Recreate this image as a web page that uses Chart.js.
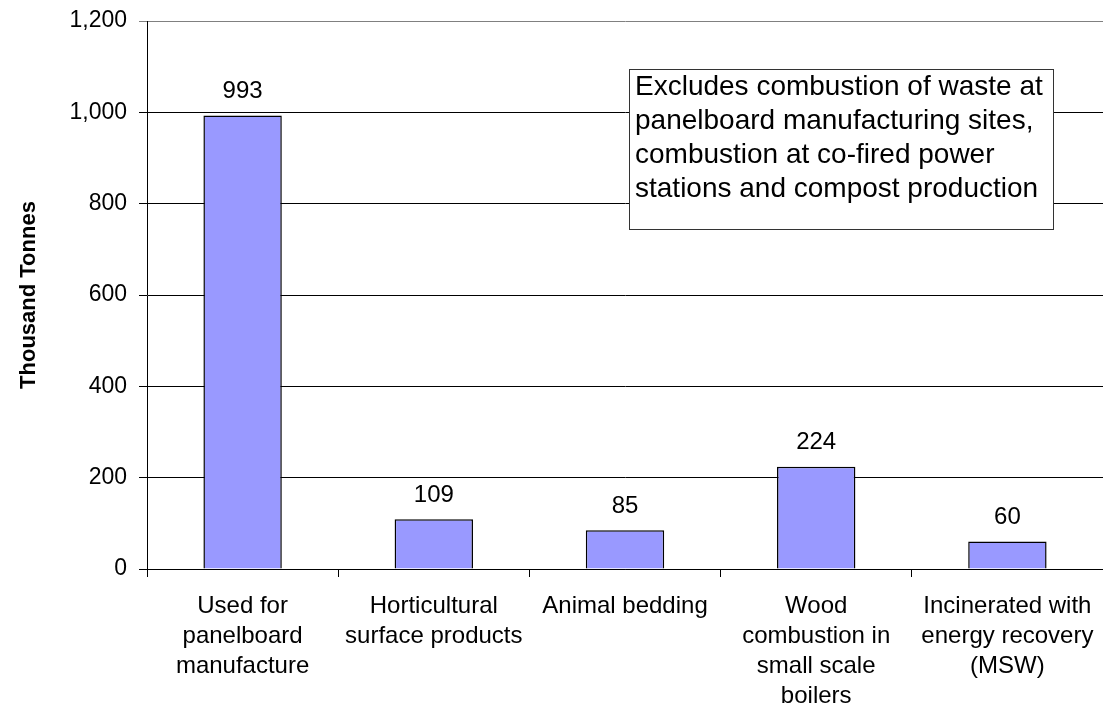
<!DOCTYPE html>
<html>
<head>
<meta charset="utf-8">
<script src="https://cdn.jsdelivr.net/npm/chart.js@4/dist/chart.umd.min.js"></script>
<style>
  html, body { margin: 0; padding: 0; background: #ffffff; }
  #wrap { width: 1103px; height: 704px; position: relative; }
</style>
</head>
<body>
<div id="wrap"><canvas id="chart"></canvas></div>
<script>
// Wood waste end uses (thousand tonnes)
const categories = [
  ["Used for", "panelboard", "manufacture"],
  ["Horticultural", "surface products"],
  ["Animal bedding"],
  ["Wood", "combustion in", "small scale", "boilers"],
  ["Incinerated with", "energy recovery", "(MSW)"]
];
const tonnes = [993, 109, 85, 224, 60];
const yTicks = [0, 200, 400, 600, 800, 1000, 1200];
const noteLines = [
  "Excludes combustion of waste at",
  "panelboard manufacturing sites,",
  "combustion at co-fired power",
  "stations and compost production"
];

const FONT = "'Liberation Sans', Arial, Helvetica, sans-serif";

// Value labels above each bar
const valueLabels = {
  id: 'valueLabels',
  afterDatasetsDraw(chart) {
    const ctx = chart.ctx;
    const meta = chart.getDatasetMeta(0);
    ctx.save();
    ctx.font = '24px ' + FONT;
    ctx.fillStyle = '#000000';
    ctx.textAlign = 'center';
    ctx.textBaseline = 'middle';
    meta.data.forEach((bar, i) => {
      ctx.fillText(String(tonnes[i]), bar.x, bar.y - 24);
    });
    ctx.restore();
  }
};

// Boxed note in the upper right of the plot
const noteBox = {
  id: 'noteBox',
  afterDraw(chart) {
    const ctx = chart.ctx;
    ctx.save();
    const x = 629, y = 69, w = 424, h = 160;
    ctx.fillStyle = '#ffffff';
    ctx.fillRect(x, y, w, h);
    ctx.strokeStyle = '#333333';
    ctx.lineWidth = 1;
    ctx.strokeRect(x + 0.5, y + 0.5, w, h);
    ctx.font = '28px ' + FONT;
    ctx.fillStyle = '#000000';
    ctx.textAlign = 'left';
    ctx.textBaseline = 'alphabetic';
    noteLines.forEach((line, i) => {
      ctx.fillText(line, x + 6, y + 26 + i * 33.9);
    });
    ctx.restore();
  }
};

new Chart(document.getElementById('chart'), {
  type: 'bar',
  data: {
    labels: categories,
    datasets: [{
      data: tonnes,
      backgroundColor: '#9999ff',
      borderColor: '#000000',
      borderWidth: 1.5,
      barPercentage: 0.41,
      categoryPercentage: 1.0
    }]
  },
  options: {
    responsive: true,
    maintainAspectRatio: false,
    animation: false,
    devicePixelRatio: 1,
    layout: { padding: { top: 21, right: 0, left: 0, bottom: 0 } },
    plugins: {
      legend: { display: false },
      tooltip: { enabled: false },
      title: { display: false }
    },
    scales: {
      x: {
        offset: true,
        grid: {
          offset: true,
          drawOnChartArea: false,
          drawTicks: true,
          tickLength: 8,
          color: '#000000'
        },
        border: { display: true, color: '#000000', width: 1 },
        ticks: {
          autoSkip: false,
          maxRotation: 0,
          minRotation: 0,
          padding: 14,
          color: '#000000',
          font: { family: FONT, size: 24, lineHeight: 1.25 }
        },
        afterFit(scale) {
          scale.height = 135;
          scale.paddingLeft = 0;
          scale.paddingRight = 0;
        }
      },
      y: {
        min: 0,
        max: 1200,
        afterBuildTicks(scale) {
          scale.ticks = yTicks.map(v => ({ value: v }));
        },
        grid: {
          drawTicks: true,
          tickLength: 8,
          color: ctx => (ctx.tick && ctx.tick.value === 1200) ? '#808080' : '#000000',
          lineWidth: 1
        },
        border: { display: true, color: '#000000', width: 1 },
        ticks: {
          padding: 12,
          color: '#000000',
          font: { family: FONT, size: 23 },
          callback: v => v.toLocaleString('en-US')
        },
        title: {
          display: true,
          text: 'Thousand Tonnes',
          color: '#000000',
          font: { family: FONT, size: 22, weight: 'bold' },
          padding: { top: 16, bottom: 0 }
        },
        afterFit(scale) {
          scale.width = 147;
          scale.paddingTop = 0;
          scale.paddingBottom = 0;
        }
      }
    }
  },
  plugins: [valueLabels, noteBox]
});
</script>
</body>
</html>
